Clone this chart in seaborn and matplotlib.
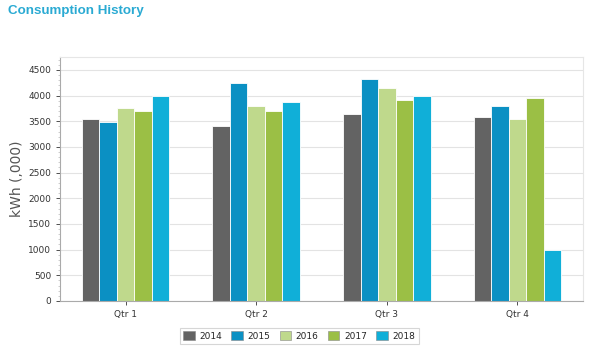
import matplotlib
matplotlib.use("Agg")
import matplotlib.pyplot as plt
import seaborn as sns
import pandas as pd
from matplotlib.patches import Patch
from matplotlib.ticker import MultipleLocator

quarters = ["Qtr 1", "Qtr 2", "Qtr 3", "Qtr 4"]
years = ["2014", "2015", "2016", "2017", "2018"]
v2014 = [3550, 3400, 3650, 3580]
v2015 = [3480, 4250, 4330, 3800]
v2016 = [3760, 3800, 4150, 3540]
v2017 = [3690, 3700, 3920, 3960]
v2018 = [4000, 3870, 3990, 1000]
colors = ["#636363", "#0b90c3", "#bfd98c", "#9bbf45", "#10afd8"]

rows = []
for y, vals in zip(years, [v2014, v2015, v2016, v2017, v2018]):
    for q, v in zip(quarters, vals):
        rows.append({"Quarter": q, "Year": y, "kWh": v})
df = pd.DataFrame(rows)

sns.set_style("white")
plt.rcParams['font.family'] = ['DejaVu Sans']

fig = plt.figure(figsize=(6.02, 3.51), dpi=100)
ax = fig.add_axes([0.1, 0.1425, 0.868, 0.695])

sns.barplot(data=df, x="Quarter", y="kWh", hue="Year", order=quarters,
            hue_order=years, palette=colors, saturation=1, width=0.67, ax=ax,
            edgecolor="white", linewidth=0.6, legend=False, errorbar=None)

ax.set_ylim(0, 4750)
ax.set_xlim(-0.5, 3.5)
ax.yaxis.set_major_locator(MultipleLocator(500))
ax.yaxis.set_minor_locator(MultipleLocator(100))
ax.grid(axis="y", color="#e3e3e3", linewidth=0.8)
ax.set_axisbelow(True)
ax.set_xlabel("")
ax.set_ylabel("kWh (,000)", fontsize=10, color="#555555", labelpad=3)
ax.tick_params(axis="both", labelsize=6.5, colors="#333333", length=3, width=0.6, direction="out", left=True, bottom=True)
ax.tick_params(axis="y", which="minor", length=1.5, width=0.5, color="#bbbbbb", left=True)
for s in ["left", "bottom"]:
    ax.spines[s].set_color("#aaaaaa")
    ax.spines[s].set_linewidth(0.8)
for s in ["top", "right"]:
    ax.spines[s].set_color("#e6e6e6")
    ax.spines[s].set_linewidth(0.8)

fig.text(0.013, 0.968, "Consumption History", fontsize=9.6, fontweight="bold",
         color="#2aaad3", ha="left", va="center", family=["Liberation Sans", "DejaVu Sans"])

handles = [Patch(facecolor=c, edgecolor="#888888", linewidth=0.4, label=y) for c, y in zip(colors, years)]
leg = fig.legend(handles=handles, loc="center", bbox_to_anchor=(0.497, 0.043), ncol=5,
                 fontsize=6.5, frameon=True, fancybox=False, handlelength=1.3,
                 handleheight=1.1, handletextpad=0.5, columnspacing=1.0,
                 borderpad=0.4, edgecolor="#cccccc")
leg.get_frame().set_linewidth(0.8)

fig.savefig("out.png", dpi=100)
